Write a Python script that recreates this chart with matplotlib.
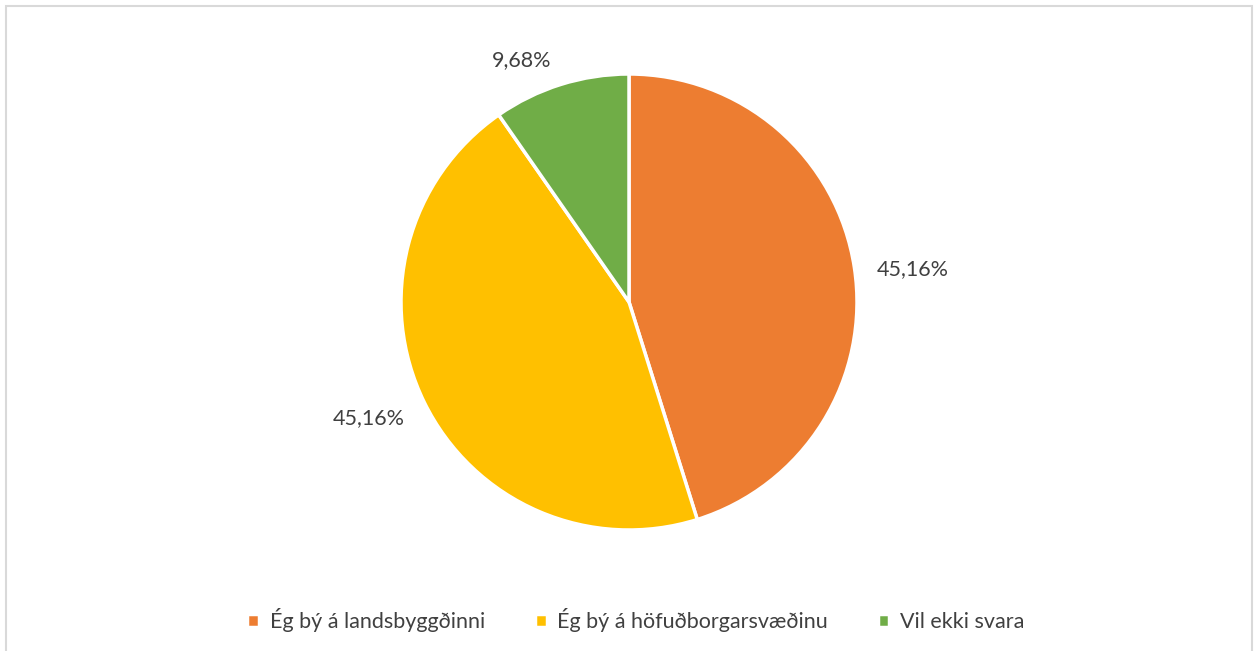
import matplotlib
matplotlib.use('Agg')
import numpy as np
import matplotlib.pyplot as plt
from matplotlib.patches import Rectangle

labels = ['Ég bý á landsbyggðinni', 'Ég bý á höfuðborgarsvæðinu', 'Vil ekki svara']
values = [45.16, 45.16, 9.68]
colors = ['#ED7D31', '#FFC000', '#70AD47']

# label placement: distance along the mid-angle plus a small nudge (px)
label_dist = [1.24, 1.25, 1.16]
label_nudge = [(4, -10), (-4, 9), (-28, -10)]

plt.rcParams['font.family'] = ['Lato', 'DejaVu Sans']

W, H = 1255, 651
fig = plt.figure(figsize=(W / 100, H / 100), dpi=100)
ax = fig.add_axes([0, 0, 1, 1])

# chart area border (bottom runs off the image)
ax.add_patch(Rectangle((6, -10), 1246, H - 6 + 10, fill=False, edgecolor='#d9d9d9', linewidth=1.5))

cx, cy, r = 629, H - 302, 228
wedges, texts, autotexts = ax.pie(
    values, colors=colors, startangle=90, counterclock=False,
    center=(cx, cy), radius=r, frame=True,
    autopct=lambda p: ('%.2f%%' % p).replace('.', ','),
    wedgeprops=dict(edgecolor='white', linewidth=2.5),
    textprops=dict(color='#404040', fontsize=15.5))

for w, t, d, (nx, ny) in zip(wedges, autotexts, label_dist, label_nudge):
    ang = np.deg2rad((w.theta1 + w.theta2) / 2)
    t.set_position((cx + d * r * np.cos(ang) + nx, cy + d * r * np.sin(ang) + ny))

ax.set_xlim(0, W)
ax.set_ylim(0, H)
ax.axis('off')
ax.set_aspect('equal')

leg = ax.legend(wedges, labels, loc='center', bbox_to_anchor=(636 / W, 1 - 620 / H),
                ncol=3, frameon=False, handlelength=0.55, handleheight=0.55,
                handletextpad=0.5, columnspacing=2.3, fontsize=15.5)
for t in leg.get_texts():
    t.set_color('#404040')

fig.savefig('out.png', dpi=100)
